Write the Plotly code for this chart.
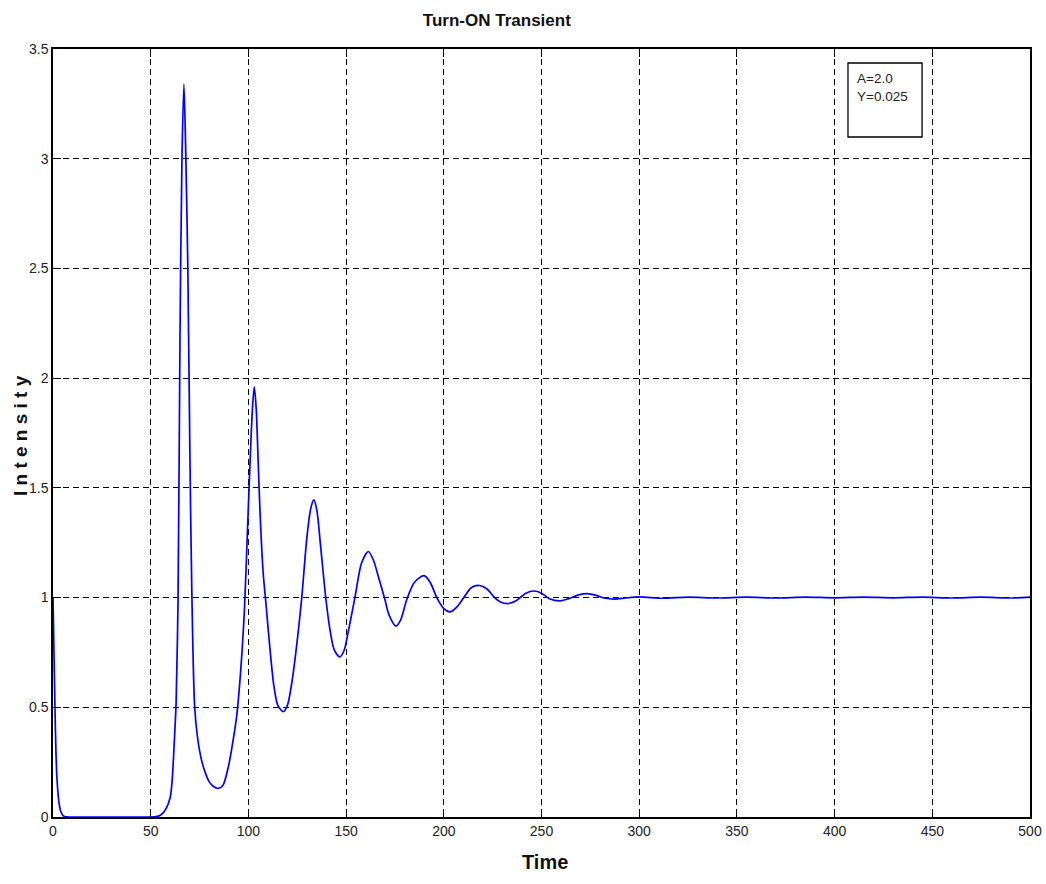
import plotly.graph_objects as go

# Turn-ON transient of the optical intensity (A = 2.0, Y = 0.025)
time = [
    0, 0.5, 1, 1.5, 2, 3, 4, 5, 6, 8, 12, 20, 30, 40, 48, 52, 54, 56, 58, 60,
    61, 62, 63, 64, 65, 66, 67, 68, 69, 70, 71, 72.5, 74, 76, 78, 80, 82, 84.5,
    87, 90, 92, 94, 96, 98, 99.5, 101, 102, 103, 104, 105, 106, 107.5,
    109, 111, 113, 115, 117.8, 120, 122, 124, 127.2, 130, 132, 133.5, 135,
    137, 139.7, 142, 144, 146.8, 149, 151, 154.5, 158, 161.4, 164, 167, 169.9,
    172, 175.5, 178, 181, 185, 189.9, 193, 196.4, 200, 203.3, 207, 211, 214,
    218.3, 222, 226, 229, 233, 237, 242, 246.3, 250, 254, 259.6, 264, 269,
    273.3, 278, 282, 287.8, 293, 300, 312, 325, 340, 355, 370, 385, 400, 415,
    430, 445, 460, 475, 490, 500,
]
intensity = [
    1.0, 0.75, 0.5, 0.3, 0.18, 0.07, 0.025, 0.008, 0.002, 0.0, 0.0, 0.0, 0.0,
    0.0, 0.0, 0.001, 0.004, 0.015, 0.04, 0.09,
    0.17, 0.33, 0.52, 1.0, 2.2, 3.0, 3.34, 3.0, 2.5, 1.7, 1.05, 0.5, 0.36,
    0.26, 0.2, 0.16, 0.14, 0.13,
    0.145, 0.24, 0.34, 0.46, 0.66, 0.95, 1.3, 1.65, 1.85, 1.96, 1.86, 1.62,
    1.38, 1.12,
    0.97, 0.77, 0.6, 0.51, 0.48, 0.51, 0.6, 0.73, 0.99, 1.28, 1.41, 1.445,
    1.4,
    1.23, 0.99, 0.84, 0.76, 0.73, 0.76, 0.84, 1.0, 1.16, 1.21, 1.17, 1.08,
    0.99,
    0.92, 0.87, 0.9, 0.99, 1.07, 1.10, 1.07, 1.0, 0.95, 0.935, 0.96, 1.01,
    1.045,
    1.055, 1.04, 1.0, 0.98, 0.973, 0.985, 1.02, 1.03, 1.02, 0.995, 0.985,
    0.995,
    1.012, 1.018, 1.01, 0.998, 0.993, 0.998, 1.003, 0.997, 1.002, 0.998,
    1.002, 0.998, 1.002, 0.999, 1.002,
    0.999, 1.002, 0.998, 1.002, 0.998, 1.002,
]

x_ticks = [0, 50, 100, 150, 200, 250, 300, 350, 400, 450, 500]
y_ticks = [0, 0.5, 1, 1.5, 2, 2.5, 3, 3.5]
params_text = ["A=2.0", "Y=0.025"]

FONT = "Liberation Sans, Arial, sans-serif"

fig = go.Figure()
fig.add_trace(go.Scatter(
    x=time, y=intensity, mode="lines",
    line=dict(color="#0000ff", width=1.7, shape="spline", smoothing=0.8),
    hoverinfo="skip", showlegend=False,
))

axis_common = dict(
    showline=True, linecolor="black", linewidth=1.5, mirror="ticks",
    ticks="inside", ticklen=8, tickcolor="black", tickwidth=1.2,
    showgrid=True, gridcolor="black", gridwidth=1, griddash="6px,4px",
    zeroline=False, automargin=False,
    tickfont=dict(family=FONT, size=14, color="#222"),
)

fig.update_xaxes(range=[0, 500], tickvals=x_ticks,
                 ticktext=[str(v) for v in x_ticks], **axis_common)
fig.update_yaxes(range=[0, 3.5], tickvals=y_ticks,
                 ticktext=[f"{v:g}" for v in y_ticks], **axis_common)

# Parameter box in the upper right corner
fig.add_shape(type="rect", xref="paper", yref="paper",
              x0=0.8137, x1=0.8895, y0=0.8854, y1=0.9818,
              line=dict(color="black", width=1.3), fillcolor="white", layer="above")
fig.add_annotation(xref="paper", yref="paper", x=0.821, y=0.974,
                   xanchor="left", yanchor="top", align="left", showarrow=False,
                   text="<br>".join(params_text),
                   font=dict(family=FONT, size=13.5, color="#222"))

# Axis titles
fig.add_annotation(xref="paper", yref="paper", x=0.5035, y=-0.058,
                   xanchor="center", yanchor="middle", showarrow=False,
                   text="<b>Time</b>",
                   font=dict(family=FONT, size=20, color="#111"))
fig.add_annotation(xref="paper", yref="paper", x=-0.033, y=0.497,
                   xanchor="center", yanchor="middle", showarrow=False,
                   textangle=-90, text="<b>I n t e n s i t y</b>",
                   font=dict(family=FONT, size=19, color="#111"))

fig.update_layout(
    width=1046, height=884,
    margin=dict(l=53, r=16, t=49, b=67),
    paper_bgcolor="white", plot_bgcolor="white",
    title=dict(text="<b>Turn-ON Transient</b>", x=0.475, xanchor="center",
               y=0.977, yanchor="middle",
               font=dict(family=FONT, size=17, color="#111")),
)

fig.write_html("out.html")
